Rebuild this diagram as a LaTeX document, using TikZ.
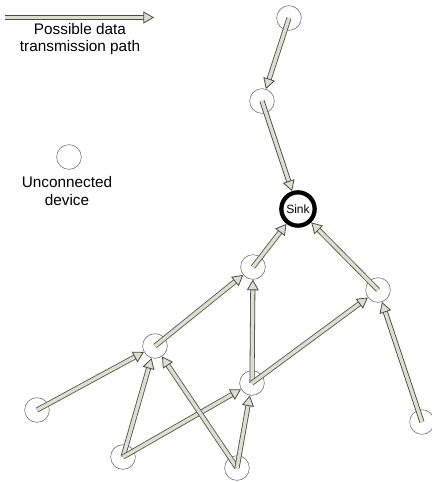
\documentclass[tikz,border=0pt]{standalone}
\usepackage{fontspec}
\setmainfont{Liberation Sans}
\usetikzlibrary{arrows.meta}
\definecolor{pathfill}{RGB}{222,222,204}
\definecolor{pathline}{RGB}{75,75,70}

\begin{document}
\begin{tikzpicture}
[x=0.75pt, y=-0.75pt,
every node/.style = {align=center, font=\fontsize{11.5}{13}\selectfont}]
\tikzstyle{device} = [circle, draw=black!60, fill=white, minimum size=18.5pt, inner sep=0pt]
\tikzstyle{sink} = [circle, draw=black, line width=3.2pt, fill=white, minimum size=25pt, inner sep=0pt,
  font=\fontsize{9}{10}\selectfont]
\tikzstyle{link} = [draw=pathline, line width=0.6pt, double=pathfill, double distance=2.6pt,
  -{Triangle[open, fill=pathfill, length=8pt, width=9pt]}]

\useasboundingbox (0,0) rectangle (432,482);

\coordinate (legstart) at (5,17.5);
\coordinate (legend) at (154,17.5);
\node (legtext) at (80,39) {Possible data\\transmission path};
\node[device] (lone) at (69,157) {};
\node (lonetext) at (67,191) {Unconnected\\device};

\node[device] (top) at (289,18) {};
\node[device] (upper) at (262,101) {};
\node[sink] (sink) at (298,209) {Sink};
\node[device] (mid) at (253,267) {};
\node[device] (right) at (378,290) {};
\node[device] (left) at (155,346) {};
\node[device] (centre) at (252,383) {};
\node[device] (farleft) at (37,410) {};
\node[device] (farright) at (422,422) {};
\node[device] (lowleft) at (123,457) {};
\node[device] (low) at (237,468) {};

\draw[link] (legstart) -- (legend);
\draw[link] (top.center) -- (upper);
\draw[link] (upper.center) -- (sink);
\draw[link] (mid.center) -- (sink);
\draw[link] (right.center) -- (sink);
\draw[link] (left.center) -- (mid);
\draw[link] (centre.center) -- (mid);
\draw[link] (centre.center) -- (right);
\draw[link] (farleft.center) -- (left);
\draw[link] (farright.center) -- (right);
\draw[link] (lowleft.center) -- (left);
\draw[link] (lowleft.center) -- (centre);
\draw[link] (low.center) -- (left);
\draw[link] (low.center) -- (centre);

\end{tikzpicture}
\end{document}
